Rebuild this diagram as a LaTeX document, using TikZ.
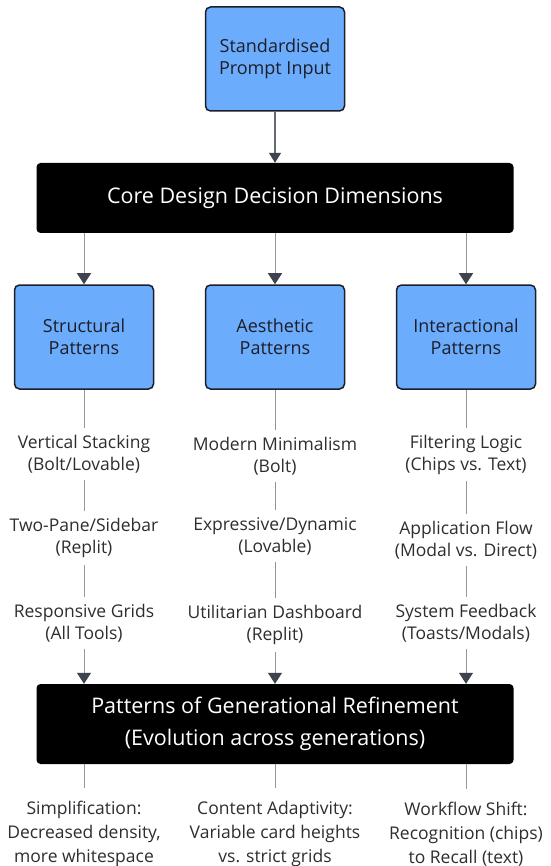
\documentclass[tikz,border=0pt]{standalone}
\usepackage{fontspec}
\setmainfont{Open Sans}
\usetikzlibrary{arrows.meta}
\definecolor{boxblue}{RGB}{108,172,252}
\definecolor{edgec}{RGB}{28,30,40}
\definecolor{arrc}{RGB}{62,67,78}
\definecolor{thinc}{RGB}{150,150,150}
\definecolor{labc}{RGB}{45,45,50}
\begin{document}
\begin{tikzpicture}[x=1pt,y=-1pt,
  bluebox/.style={draw=edgec, line width=1.5pt, fill=boxblue, rounded corners=5pt,
    minimum width=139pt, minimum height=104pt, align=center, inner sep=0pt,
    text=edgec, font=\fontsize{18}{22}\selectfont},
  blackbox/.style={fill=black, text=white, rounded corners=4pt, minimum width=477pt,
    align=center, inner sep=0pt, font=\fontsize{21.5}{32}\selectfont},
  lab/.style={align=center, inner xsep=0pt, inner ysep=7pt, text=labc,
    font=\fontsize{17.5}{22}\selectfont},
  botlab/.style={align=center, inner xsep=0pt, inner ysep=13pt, text=labc,
    font=\fontsize{17.5}{24}\selectfont},
  arrowline/.style={draw=thinc, line width=1pt,
    -{Triangle[width=14pt,length=11pt,color=arrc]}},
  toparrow/.style={draw=arrc!80, line width=1.3pt,
    -{Triangle[width=12pt,length=10pt,color=arrc]}},
  plainline/.style={draw=thinc, line width=1pt}]
\useasboundingbox (0,0) rectangle (550,866);

\node[bluebox] (input) at (275,59) {Standardised\\Prompt Input};
\node[blackbox, minimum height=70pt] (core) at (275,198) {Core Design Decision Dimensions};

\node[bluebox] (struct) at (84,337) {Structural\\Patterns};
\node[bluebox] (aesth) at (275,337) {Aesthetic\\Patterns};
\node[bluebox] (inter) at (466,337) {Interactional\\Patterns};

\node[lab] (s1) at (84,454) {Vertical Stacking\\(Bolt/Lovable)};
\node[lab] (s2) at (84,538) {Two-Pane/Sidebar\\(Replit)};
\node[lab] (s3) at (84,623) {Responsive Grids\\(All Tools)};

\node[lab] (a1) at (275,456) {Modern Minimalism\\(Bolt)};
\node[lab] (a2) at (275,536) {Expressive/Dynamic\\(Lovable)};
\node[lab] (a3) at (275,625) {Utilitarian Dashboard\\(Replit)};

\node[lab] (i1) at (466,454.5) {Filtering Logic\\(Chips vs. Text)};
\node[lab] (i2) at (466,540) {Application Flow\\(Modal vs. Direct)};
\node[lab] (i3) at (466,623) {System Feedback\\(Toasts/Modals)};

\node[blackbox, minimum height=80pt] (refine) at (275,724)
  {Patterns of Generational Refinement\\(Evolution across generations)};

\node[botlab] (b1) at (84,834) {Simplification:\\Decreased density,\\more whitespace};
\node[botlab] (b2) at (275,834) {Content Adaptivity:\\Variable card heights\\vs. strict grids};
\node[botlab] (b3) at (466,834) {Workflow Shift:\\Recognition (chips)\\to Recall (text)};

\draw[toparrow] (input) -- (core);
\foreach \b in {struct,aesth,inter}
  \draw[arrowline] (\b.north |- core.south) -- (\b.north);

\foreach \a/\b in {struct/s1,s1/s2,s2/s3,aesth/a1,a1/a2,a2/a3,inter/i1,i1/i2,i2/i3}
  \draw[plainline] (\a.south) -- (\b.north);

\foreach \a in {s3,a3,i3}
  \draw[arrowline] (\a.south) -- (\a.south |- refine.north);

\foreach \b in {b1,b2,b3}
  \draw[plainline] (\b.north |- refine.south) -- (\b.north);
\end{tikzpicture}
\end{document}
